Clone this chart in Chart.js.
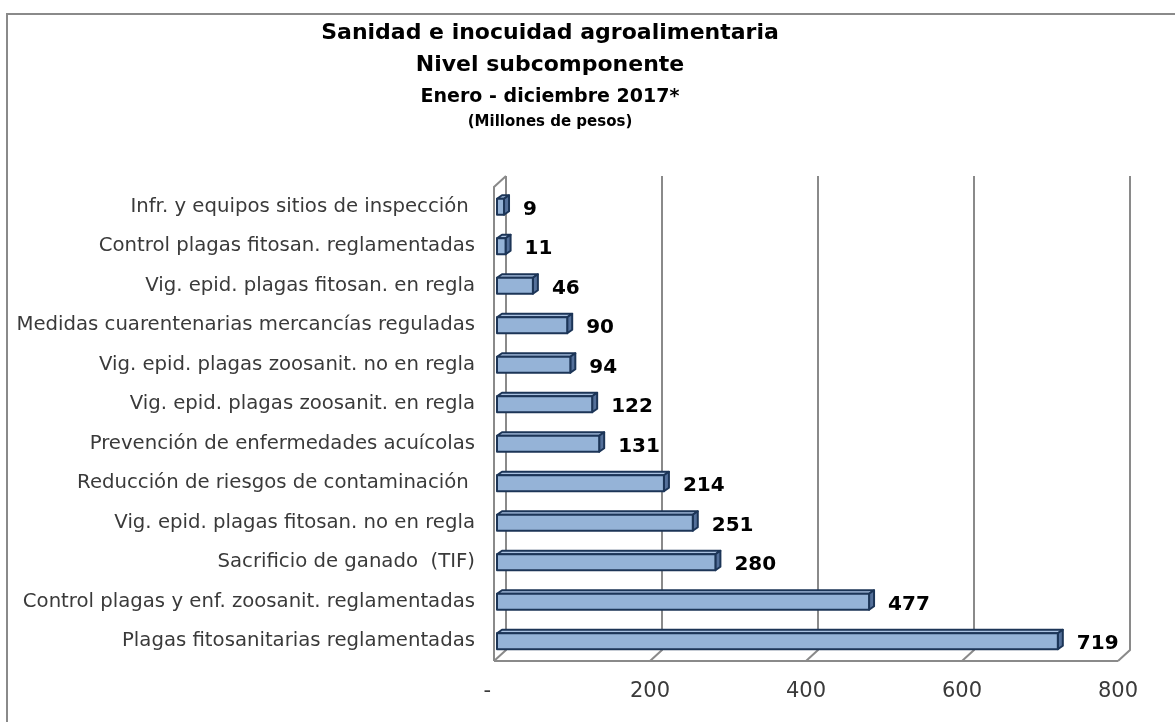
<!DOCTYPE html>
<html>
<head>
<meta charset="utf-8">
<script src="https://cdn.jsdelivr.net/npm/chart.js@4.4.1/dist/chart.umd.min.js"></script>
<style>
  html, body { margin: 0; padding: 0; background: #fff; }
</style>
</head>
<body>
<canvas id="chart" width="1175" height="722"></canvas>
<script>
// Data (millones de pesos), top to bottom
const categories = [
  'Infr. y equipos sitios de inspección ',
  'Control plagas fitosan. reglamentadas',
  'Vig. epid. plagas fitosan. en regla',
  'Medidas cuarentenarias mercancías reguladas',
  'Vig. epid. plagas zoosanit. no en regla',
  'Vig. epid. plagas zoosanit. en regla',
  'Prevención de enfermedades acuícolas',
  'Reducción de riesgos de contaminación ',
  'Vig. epid. plagas fitosan. no en regla',
  'Sacrificio de ganado  (TIF)',
  'Control plagas y enf. zoosanit. reglamentadas',
  'Plagas fitosanitarias reglamentadas'
];
const values = [9, 11, 46, 90, 94, 122, 131, 214, 251, 280, 477, 719];
const xTickLabels = ['-  ', '200', '400', '600', '800'];
const titleLines = [
  'Sanidad e inocuidad agroalimentaria',
  'Nivel subcomponente',
  'Enero - diciembre 2017*',
  '(Millones de pesos)'
];

const C = {
  front: '#95B3D7',
  top: '#A9C1E0',
  side: '#54709A',
  edge: '#1C3557',
  grid: '#8A8A8A',
  label: '#3A3A3A',
  text: '#000'
};
const FONT = '"DejaVu Sans", Verdana, sans-serif';

// wall depth of the fake 3D frame, and bar depth
const WALL_DX = 12, WALL_DY = 11;
const BAR_DX = 5, BAR_DY = 3.5, BAR_SHIFT = 3;

const frame3d = {
  id: 'frame3d',
  beforeDraw(chart) {
    const { ctx, chartArea: a, scales: { x } } = chart;
    ctx.save();
    ctx.fillStyle = '#fff';
    ctx.fillRect(0, 0, chart.width, chart.height);

    // outer border (only left and top are in the picture)
    ctx.strokeStyle = C.grid;
    ctx.lineWidth = 2;
    ctx.beginPath();
    ctx.moveTo(7, chart.height);
    ctx.lineTo(7, 14);
    ctx.lineTo(chart.width, 14);
    ctx.stroke();

    // walls and gridlines
    ctx.lineWidth = 2;
    ctx.beginPath();
    x.ticks.forEach((t, i) => {
      const px = x.getPixelForValue(t.value);
      ctx.moveTo(px + WALL_DX, a.top - WALL_DY);
      ctx.lineTo(px + WALL_DX, a.bottom - WALL_DY);
      ctx.lineTo(px, a.bottom);
      if (i === 0) {
        ctx.moveTo(px + WALL_DX, a.top - WALL_DY);
        ctx.lineTo(px, a.top);
        ctx.lineTo(px, a.bottom);
      }
    });
    ctx.moveTo(a.left, a.bottom);
    ctx.lineTo(a.right, a.bottom);
    ctx.stroke();

    // titles
    ctx.fillStyle = C.text;
    ctx.textAlign = 'center';
    ctx.textBaseline = 'middle';
    const cx = 550;
    ctx.font = 'bold 22px ' + FONT;
    ctx.fillText(titleLines[0], cx, 33);
    ctx.fillText(titleLines[1], cx, 65);
    ctx.font = 'bold 19px ' + FONT;
    ctx.fillText(titleLines[2], cx, 97);
    ctx.font = 'bold 15px ' + FONT;
    ctx.fillText(titleLines[3], cx, 122);
    ctx.restore();
  },
  afterDatasetsDraw(chart) {
    const { ctx } = chart;
    const meta = chart.getDatasetMeta(0);
    ctx.save();
    ctx.lineWidth = 2;
    ctx.strokeStyle = C.edge;
    ctx.lineJoin = 'round';
    meta.data.forEach((el, i) => {
      const { x, y, base, height } = el.getProps(['x', 'y', 'base', 'height'], true);
      const x0 = base + BAR_SHIFT, x1 = x + BAR_SHIFT;
      const yt = y - height / 2, yb = y + height / 2;

      // top face
      ctx.fillStyle = C.top;
      ctx.beginPath();
      ctx.moveTo(x0, yt);
      ctx.lineTo(x0 + BAR_DX, yt - BAR_DY);
      ctx.lineTo(x1 + BAR_DX, yt - BAR_DY);
      ctx.lineTo(x1, yt);
      ctx.closePath();
      ctx.fill();
      ctx.stroke();

      // side face
      ctx.fillStyle = C.side;
      ctx.beginPath();
      ctx.moveTo(x1, yt);
      ctx.lineTo(x1 + BAR_DX, yt - BAR_DY);
      ctx.lineTo(x1 + BAR_DX, yb - BAR_DY);
      ctx.lineTo(x1, yb);
      ctx.closePath();
      ctx.fill();
      ctx.stroke();

      // front face
      ctx.fillStyle = C.front;
      ctx.fillRect(x0, yt, x1 - x0, height);
      ctx.strokeRect(x0, yt, x1 - x0, height);

      // value label
      ctx.fillStyle = C.text;
      ctx.font = 'bold 20px ' + FONT;
      ctx.textAlign = 'left';
      ctx.textBaseline = 'middle';
      ctx.fillText(String(values[i]), x1 + 19, y + 3);
    });
    ctx.restore();
  }
};

new Chart(document.getElementById('chart'), {
  type: 'bar',
  data: {
    labels: categories,
    datasets: [{
      data: values,
      backgroundColor: 'rgba(0,0,0,0)',
      borderWidth: 0,
      barThickness: 16
    }]
  },
  options: {
    indexAxis: 'y',
    responsive: false,
    animation: false,
    layout: { padding: { top: 187, right: 57, left: 0, bottom: 0 } },
    scales: {
      x: {
        min: 0,
        max: 800,
        grid: { display: false, drawTicks: false },
        border: { display: false },
        ticks: {
          stepSize: 200,
          padding: 18,
          color: C.label,
          font: { family: FONT, size: 21 },
          callback: (v, i) => xTickLabels[i]
        },
        afterFit: (s) => { s.height = 61; }
      },
      y: {
        grid: { display: false, drawTicks: false },
        border: { display: false },
        ticks: {
          padding: 19,
          color: C.label,
          font: { family: FONT, size: 19.7 },
          autoSkip: false
        },
        afterFit: (s) => { s.width = 494; }
      }
    },
    plugins: {
      legend: { display: false },
      tooltip: { enabled: false }
    }
  },
  plugins: [frame3d]
});
</script>
</body>
</html>
